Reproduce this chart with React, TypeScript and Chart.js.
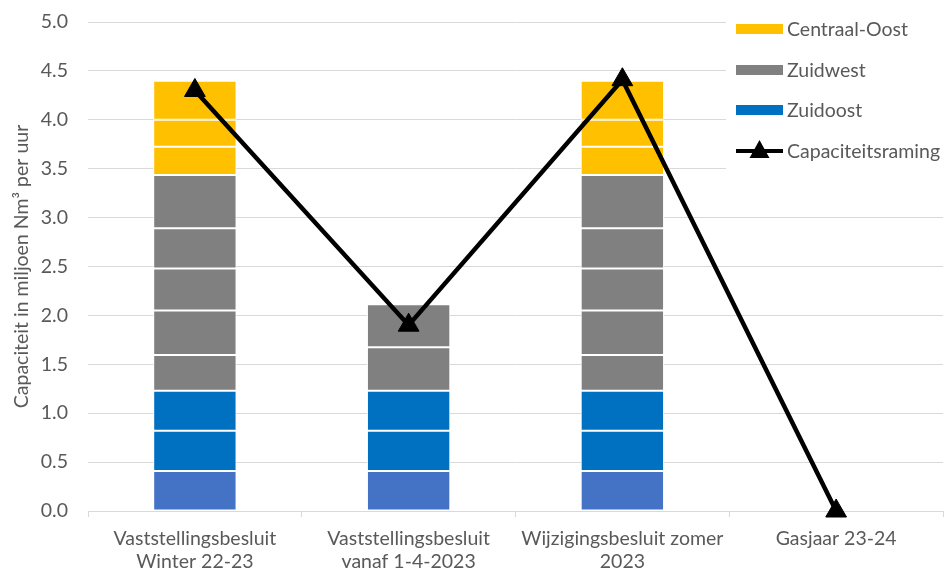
import React, { useEffect, useRef } from "react";
import { Chart, registerables } from "chart.js";

Chart.register(...registerables);

// ---------- data ----------
const categories: string[][] = [
  ["Vaststellingsbesluit", "Winter 22-23"],
  ["Vaststellingsbesluit", "vanaf 1-4-2023"],
  ["Wijzigingsbesluit zomer", "2023"],
  ["Gasjaar 23-24"],
];

// stacked segments, bottom to top
const basisSegment = [0.41, 0.41, 0.41, null];
const zuidoost1 = [0.41, 0.41, 0.41, null];
const zuidoost2 = [0.41, 0.41, 0.41, null];
const zuidwest1 = [0.365, 0.445, 0.365, null];
const zuidwest2 = [0.455, 0.44, 0.455, null];
const zuidwest3 = [0.43, null, 0.43, null];
const zuidwest4 = [0.41, null, 0.41, null];
const zuidwest5 = [0.545, null, 0.545, null];
const centraalOost1 = [0.29, null, 0.29, null];
const centraalOost2 = [0.275, null, 0.275, null];
const centraalOost3 = [0.4, null, 0.4, null];

const capaciteitsraming = [4.3, 1.9, 4.41, 0.0];

const yTicks = [0, 0.5, 1, 1.5, 2, 2.5, 3, 3.5, 4, 4.5, 5];

const legendLabels = ["Centraal-Oost", "Zuidwest", "Zuidoost", "Capaciteitsraming"];
const yTitle = "Capaciteit in miljoen Nm³ per uur";

// ---------- styles ----------
const FONT = "Lato, 'Open Sans', sans-serif";
const FS = 19.5;
const TEXT = "#595959";
const GRID = "#d9d9d9";
const C_BASIS = "#4472C4";
const C_ZO = "#0070C0";
const C_ZW = "#808080";
const C_CO = "#FFC000";

const legendColors = [C_CO, C_ZW, C_ZO, "#000000"];

const customLegend = {
  id: "customLegend",
  afterDraw(chart: any) {
    const ctx = chart.ctx;
    const area = chart.chartArea;
    const x0 = area.right - 217;
    ctx.save();
    ctx.fillStyle = "#ffffff";
    ctx.fillRect(x0, 8, chart.width - x0, 174);
    const ys = [29, 70, 110, 151];
    const sx = x0 + 10;
    const sw = 47;
    ctx.font = `${FS}px ${FONT}`;
    ctx.textBaseline = "middle";
    ctx.textAlign = "left";
    legendLabels.forEach((lab, i) => {
      const y = ys[i];
      if (i < 3) {
        ctx.fillStyle = legendColors[i];
        ctx.fillRect(sx, y - 5, sw, 10);
      } else {
        ctx.strokeStyle = "#000";
        ctx.lineWidth = 4;
        ctx.beginPath();
        ctx.moveTo(sx, y);
        ctx.lineTo(sx + sw, y);
        ctx.stroke();
        const cx = sx + sw / 2;
        ctx.fillStyle = "#000";
        ctx.beginPath();
        ctx.moveTo(cx, y - 11);
        ctx.lineTo(cx + 10, y + 7);
        ctx.lineTo(cx - 10, y + 7);
        ctx.closePath();
        ctx.fill();
      }
      ctx.fillStyle = TEXT;
      ctx.fillText(lab, sx + sw + 4, y + 1);
    });
    ctx.restore();
  },
};

function barSet(data: (number | null)[], color: string) {
  return {
    type: "bar" as const,
    data,
    backgroundColor: color,
    borderColor: "#ffffff",
    borderWidth: 1,
    borderSkipped: false,
    stack: "bars",
    order: 1,
    categoryPercentage: 1,
    barPercentage: 0.39,
  };
}

export default function App() {
  const ref = useRef<HTMLCanvasElement>(null);

  useEffect(() => {
    document.body.style.margin = "0";
    const canvas = ref.current;
    if (!canvas) return;
    const chart = new Chart(canvas, {
      type: "bar",
      data: {
        labels: categories,
        datasets: [
          barSet(basisSegment, C_BASIS),
          barSet(zuidoost1, C_ZO),
          barSet(zuidoost2, C_ZO),
          barSet(zuidwest1, C_ZW),
          barSet(zuidwest2, C_ZW),
          barSet(zuidwest3, C_ZW),
          barSet(zuidwest4, C_ZW),
          barSet(zuidwest5, C_ZW),
          barSet(centraalOost1, C_CO),
          barSet(centraalOost2, C_CO),
          barSet(centraalOost3, C_CO),
          {
            type: "line" as const,
            label: "Capaciteitsraming",
            data: capaciteitsraming,
            borderColor: "#000000",
            backgroundColor: "#000000",
            borderWidth: 4.5,
            pointStyle: "triangle",
            pointRadius: 12,
            pointBorderWidth: 1,
            stack: "line",
            order: 0,
            tension: 0,
            clip: false,
          } as any,
        ],
      },
      options: {
        animation: false,
        responsive: true,
        maintainAspectRatio: false,
        layout: { autoPadding: false, padding: { top: 22, right: 5, left: 0, bottom: 0 } },
        plugins: {
          legend: { display: false },
          tooltip: { enabled: false },
        },
        scales: {
          x: {
            stacked: true,
            grid: {
              display: true,
              drawOnChartArea: false,
              drawTicks: true,
              tickLength: 6,
              color: GRID,
              offset: true,
            },
            border: { display: true, color: GRID, width: 1 },
            ticks: {
              color: TEXT,
              font: { family: FONT, size: FS, lineHeight: 1.18 },
              padding: 10,
              maxRotation: 0,
              autoSkip: false,
            },
            afterFit: (s: any) => {
              s.height = 572 - 511;
              s.paddingLeft = 0;
              s.paddingRight = 0;
            },
          },
          y: {
            stacked: true,
            min: 0,
            max: 5,
            afterBuildTicks: (s: any) => {
              s.ticks = yTicks.map((v) => ({ value: v }));
            },
            grid: { color: GRID, lineWidth: 1, drawTicks: false },
            border: { display: false },
            ticks: {
              color: TEXT,
              font: { family: FONT, size: FS },
              padding: 20,
              callback: (v: any) => Number(v).toFixed(1),
            },
            title: {
              display: true,
              text: yTitle,
              color: TEXT,
              font: { family: FONT, size: FS },
              padding: { top: 10, bottom: 0 },
            },
            afterFit: (s: any) => {
              s.width = 88;
              s.paddingTop = 0;
              s.paddingBottom = 0;
            },
          },
        },
      },
      plugins: [customLegend],
    });
    return () => chart.destroy();
  }, []);

  return (
    <div style={{ width: 948, height: 572, position: "relative" }}>
      <canvas ref={ref} />
    </div>
  );
}
